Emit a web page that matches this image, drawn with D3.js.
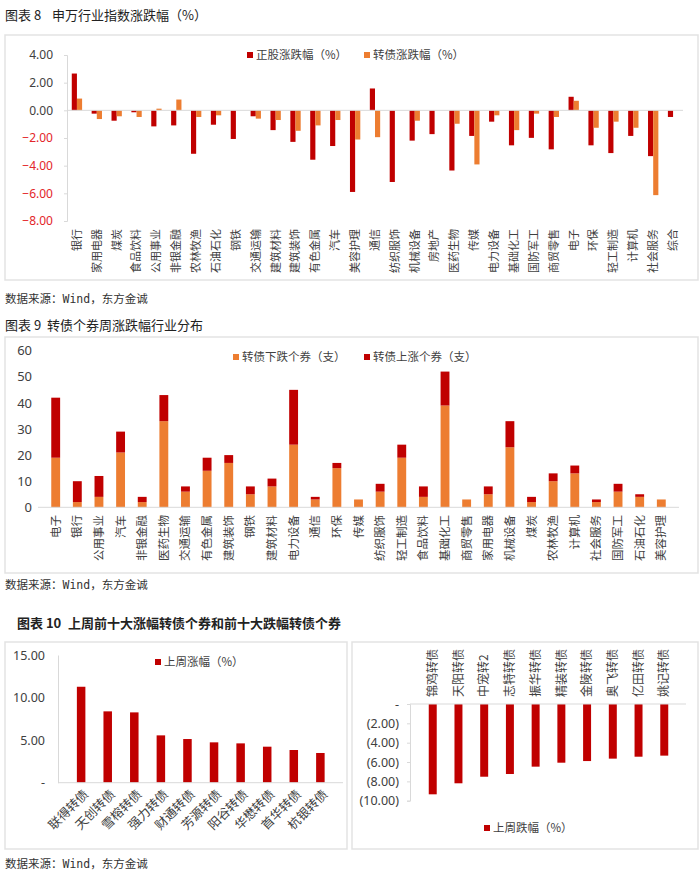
<!DOCTYPE html>
<html><head><meta charset="utf-8">
<script src="https://cdn.jsdelivr.net/npm/d3@7/dist/d3.min.js"></script>
<style>
body{margin:0;background:#fff;}
svg{display:block;font-family:"Noto Sans CJK SC","Noto Sans",sans-serif;}
</style></head><body>
<svg id="c" width="700" height="883"></svg>
<script>
// ---------- Chart 8 data ----------
const industries8 = ["银行","家用电器","煤炭","食品饮料","公用事业","非银金融","农林牧渔","石油石化","钢铁","交通运输","建筑材料","建筑装饰","有色金属","汽车","美容护理","通信","纺织服饰","机械设备","房地产","医药生物","传媒","电力设备","基础化工","国防军工","商贸零售","电子","环保","轻工制造","计算机","社会服务","综合"];
const stockChg = [2.66,-0.24,-0.75,-0.14,-1.16,-1.09,-3.14,-1.04,-2.07,-0.43,-1.43,-2.28,-3.57,-2.58,-5.90,1.58,-5.18,-2.19,-1.72,-4.35,-1.85,-0.82,-2.53,-1.99,-2.82,0.98,-2.53,-3.09,-1.85,-3.31,-0.48];
const cbChg = [0.85,-0.63,-0.43,-0.48,0.12,0.78,-0.48,-0.36,0,-0.60,-0.70,-1.48,-1.09,-0.70,-2.11,-1.94,0,-0.75,0,-0.97,-3.91,-0.36,-1.43,-0.24,-0.48,0.69,-1.26,-0.82,-1.26,-6.13,0];
const ticks8 = [4,2,0,-2,-4,-6,-8];
const series8 = ["正股涨跌幅（%）","转债涨跌幅（%）"];

// ---------- Chart 9 data ----------
const industries9 = ["电子","银行","公用事业","汽车","非银金融","医药生物","交通运输","有色金属","建筑装饰","钢铁","建筑材料","电力设备","通信","环保","传媒","纺织服饰","轻工制造","食品饮料","基础化工","商贸零售","家用电器","机械设备","煤炭","农林牧渔","计算机","社会服务","国防军工","石油石化","美容护理"];
const downCount = [19,2,4,21,2,33,6,14,17,5,8,24,3,15,3,6,19,4,39,3,5,23,2,10,13,2,6,4,3];
const upCount = [23,8,8,8,2,10,2,5,3,3,3,21,1,2,0,3,5,4,13,0,3,10,2,3,3,1,3,1,0];
const ticks9 = [0,10,20,30,40,50,60];
const series9 = ["转债下跌个券（支）","转债上涨个券（支）"];

// ---------- Chart 10 data ----------
const gainBonds = ["联得转债","天创转债","雪榕转债","强力转债","财通转债","芳源转债","阳谷转债","华懋转债","首华转债","杭银转债"];
const gainVals = [11.27,8.38,8.26,5.56,5.13,4.74,4.62,4.23,3.84,3.49];
const lossBonds = ["锦鸡转债","天阳转债","中宠转2","志特转债","振华转债","精装转债","金陵转债","奥飞转债","亿田转债","姚记转债"];
const lossVals = [-9.34,-8.20,-7.52,-7.24,-6.48,-6.07,-5.90,-5.65,-5.45,-5.34];
const ticksGain = [0,5,10,15];
const ticksLoss = [0,-2,-4,-6,-8,-10];

const RED = "#C00000", ORANGE = "#ED7D31", TXT = "#404040", GRID = "#D9D9D9";
const svg = d3.select("#c");
const srcTxt = "数据来源：Wind，东方金诚";

function title(x1, label, x2, text, y, bold){
  const t = svg.append("text").attr("y",y).attr("font-size",13).attr("fill","#222")
    .attr("font-weight",bold?"bold":"normal");
  t.append("tspan").attr("x",x1).text(label);
  t.append("tspan").attr("x",x2).text(text);
}
function frame(x, y, w, h){
  svg.append("rect").attr("x",x).attr("y",y).attr("width",w).attr("height",h)
    .attr("fill","none").attr("stroke","#E3E3E3").attr("stroke-width",1.5);
}
function source(y){
  svg.append("text").attr("x",5).attr("y",y).attr("font-size",11.5).attr("fill","#333")
    .attr("font-family","'DejaVu Sans Mono','Noto Sans CJK SC',monospace").text(srcTxt);
}
function legendItem(x, y, color, label){
  svg.append("rect").attr("x",x).attr("y",y-6).attr("width",6).attr("height",6).attr("fill",color);
  svg.append("text").attr("x",x+9).attr("y",y+1).attr("font-size",11.5).attr("fill",TXT).text(label);
}

// ===== Chart 8 =====
title(5,"图表 8",52,"申万行业指数涨跌幅（%）",20,false);
frame(5,35,693,245);
{
  const y = d3.scaleLinear().domain([-8,4]).range([221,55]);
  const x0 = d3.scaleBand().domain(industries8).range([67,683]).padding(0);
  const bw = x0.bandwidth();
  const x1 = d3.scaleBand().domain([0,1]).range([bw*0.24,bw*0.76]).padding(0);
  const g = svg.append("g");
  const ya = d3.axisLeft(y).tickValues(ticks8).tickSize(3).tickFormat(d3.format(".2f"));
  const ag = g.append("g").attr("transform","translate(67,0)").call(ya);
  ag.select(".domain").attr("stroke",GRID);
  ag.selectAll(".tick line").attr("stroke",GRID);
  ag.selectAll(".tick text").attr("font-size",12).attr("fill",d=>d<0?"#E3262A":TXT).attr("x",-14)
    .attr("font-family","'Noto Sans','Liberation Sans',sans-serif");
  industries8.forEach((c,i)=>{
    [stockChg[i],cbChg[i]].forEach((v,j)=>{
      if(v===0) return;
      g.append("rect").attr("x",x0(c)+x1(j)).attr("width",x1.bandwidth())
        .attr("y",y(Math.max(0,v))).attr("height",Math.abs(y(v)-y(0)))
        .attr("fill",j===0?RED:ORANGE);
    });
  });
  g.append("line").attr("x1",67).attr("x2",683).attr("y1",y(0)).attr("y2",y(0)).attr("stroke",GRID);
  industries8.forEach(c=>{
    const cx = x0(c)+bw/2;
    g.append("text").attr("transform",`translate(${cx},229) rotate(-90)`).attr("text-anchor","end")
      .attr("dy","0.35em").attr("font-size",11).attr("fill",TXT).text(c);
  });
  legendItem(247,58,RED,series8[0]);
  legendItem(364,58,ORANGE,series8[1]);
}
source(303);

// ===== Chart 9 =====
title(5,"图表 9",47,"转债个券周涨跌幅行业分布",330,false);
frame(5,337,693,236);
{
  const y = d3.scaleLinear().domain([0,60]).range([507.3,350.7]);
  const x = d3.scaleBand().domain(industries9).range([38.5,678.5]).padding(0.59);
  const g = svg.append("g");
  const ya = d3.axisLeft(y).tickValues(ticks9).tickSize(0).tickFormat(d3.format("d"));
  const ag = g.append("g").attr("transform","translate(38,0)").call(ya);
  ag.select(".domain").remove();
  ag.selectAll(".tick text").attr("font-size",13).attr("fill",TXT).attr("x",-6)
    .attr("font-family","'Noto Sans','Liberation Sans',sans-serif");
  industries9.forEach((c,i)=>{
    g.append("rect").attr("x",x(c)).attr("width",x.bandwidth())
      .attr("y",y(downCount[i])).attr("height",y(0)-y(downCount[i])).attr("fill",ORANGE);
    if(upCount[i]>0)
      g.append("rect").attr("x",x(c)).attr("width",x.bandwidth())
        .attr("y",y(downCount[i]+upCount[i])).attr("height",y(downCount[i])-y(downCount[i]+upCount[i])).attr("fill",RED);
  });
  g.append("line").attr("x1",38).attr("x2",679).attr("y1",y(0)).attr("y2",y(0)).attr("stroke",GRID);
  industries9.forEach(c=>{
    const cx = x(c)+x.bandwidth()/2;
    g.append("text").attr("transform",`translate(${cx},515) rotate(-90)`).attr("text-anchor","end")
      .attr("dy","0.35em").attr("font-size",11.5).attr("fill",TXT).text(c);
  });
  legendItem(233,360,ORANGE,series9[0]);
  legendItem(364,360,RED,series9[1]);
}
source(589);

// ===== Chart 10 =====
title(17,"图表 10",68,"上周前十大涨幅转债个券和前十大跌幅转债个券",628,true);
frame(5,642,342,207);
frame(352,642,346,207);
{
  const y = d3.scaleLinear().domain([0,15]).range([782.7,655]);
  const x = d3.scaleBand().domain(gainBonds).range([58.8,342.7]).padding(0.68);
  const g = svg.append("g");
  const ya = d3.axisLeft(y).tickValues(ticksGain).tickSize(0).tickFormat(d=>d===0?"-":d3.format(".2f")(d));
  const ag = g.append("g").attr("transform","translate(58,0)").call(ya);
  ag.select(".domain").attr("stroke",GRID);
  ag.selectAll(".tick text").attr("font-size",12.5).attr("fill",TXT).attr("x",-13)
    .attr("font-family","'Noto Sans','Liberation Sans',sans-serif");
  gainBonds.forEach((c,i)=>{
    g.append("rect").attr("x",x(c)).attr("width",x.bandwidth())
      .attr("y",y(gainVals[i])).attr("height",y(0)-y(gainVals[i])).attr("fill",RED);
  });
  g.append("line").attr("x1",58).attr("x2",343).attr("y1",y(0)).attr("y2",y(0)).attr("stroke",GRID);
  gainBonds.forEach(c=>{
    const cx = x(c)+x.bandwidth()/2+5;
    g.append("text").attr("transform",`translate(${cx},792) rotate(-45)`).attr("text-anchor","end")
      .attr("dy","0.35em").attr("font-size",12.5).attr("fill",TXT).text(c);
  });
  legendItem(155,665,RED,"上周涨幅（%）");
}
{
  const y = d3.scaleLinear().domain([-10,0]).range([800.7,704]);
  const x = d3.scaleBand().domain(lossBonds).range([411,686]).padding(0.69);
  const g = svg.append("g");
  const ya = d3.axisLeft(y).tickValues(ticksLoss).tickSize(3).tickFormat(d=>d===0?"-":"("+d3.format(".2f")(-d)+")");
  const ag = g.append("g").attr("transform","translate(410,0)").call(ya);
  ag.select(".domain").attr("stroke",GRID);
  ag.selectAll(".tick line").attr("stroke",GRID);
  ag.selectAll(".tick text").attr("font-size",12.5).attr("fill",TXT).attr("x",-11)
    .attr("font-family","'Noto Sans','Liberation Sans',sans-serif");
  lossBonds.forEach((c,i)=>{
    g.append("rect").attr("x",x(c)).attr("width",x.bandwidth())
      .attr("y",y(0)).attr("height",y(lossVals[i])-y(0)).attr("fill",RED);
  });
  g.append("line").attr("x1",410).attr("x2",686).attr("y1",y(0)).attr("y2",y(0)).attr("stroke",GRID);
  lossBonds.forEach(c=>{
    const cx = x(c)+x.bandwidth()/2;
    g.append("text").attr("transform",`translate(${cx},697) rotate(-90)`).attr("text-anchor","start")
      .attr("dy","0.35em").attr("font-size",12).attr("fill",TXT).text(c);
  });
  legendItem(484,831,RED,"上周跌幅（%）");
}
source(868);
</script>
</body></html>
